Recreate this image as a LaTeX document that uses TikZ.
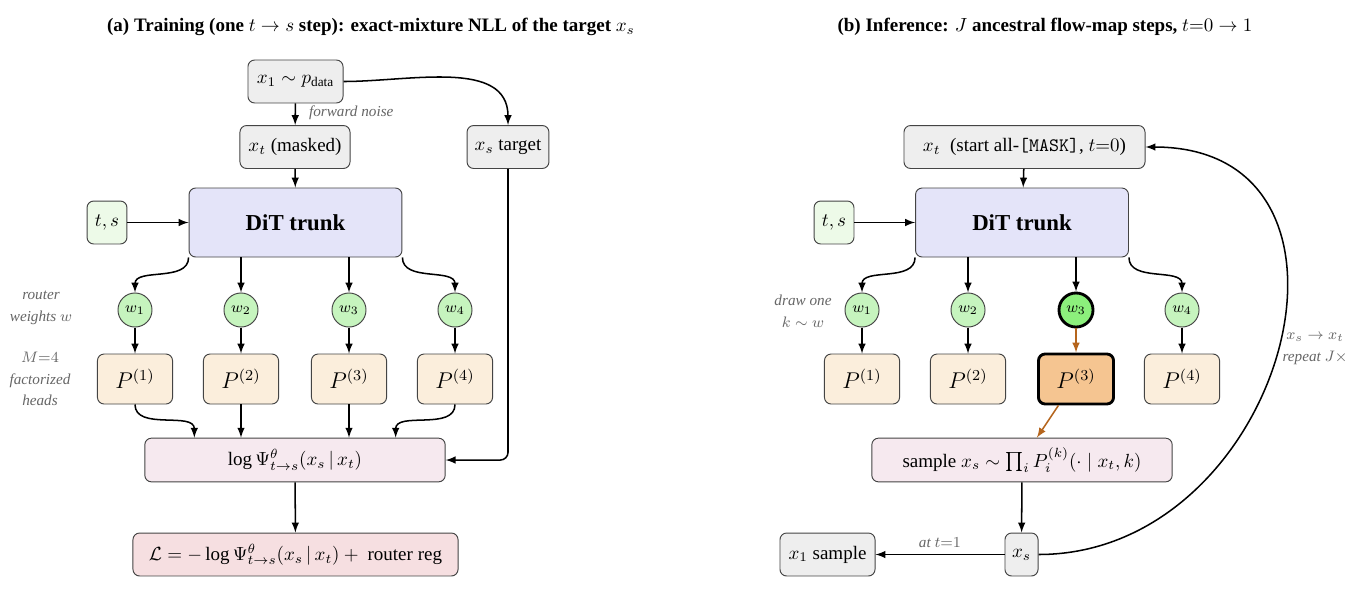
\documentclass[tikz,border=0pt]{standalone}
\usepackage{fontspec}
\setmainfont{Liberation Serif}
\usepackage{amsmath}
\usetikzlibrary{positioning}

\definecolor{boxgray}{HTML}{EEEEEE}
\definecolor{tsgreen}{HTML}{EDFAE8}
\definecolor{trunkblue}{HTML}{E4E4F9}
\definecolor{wgreen}{HTML}{C6F4BE}
\definecolor{wpick}{HTML}{8CF07C}
\definecolor{headtan}{HTML}{FBEEDC}
\definecolor{headpick}{HTML}{F5C591}
\definecolor{mixpink}{HTML}{F6E9EF}
\definecolor{losspink}{HTML}{F6DFE1}
\definecolor{pickline}{HTML}{B5651D}
\definecolor{notegray}{HTML}{666666}
\definecolor{edgegray}{HTML}{444444}

\begin{document}
\begin{tikzpicture}[x=0.526pt, y=-0.526pt, >=latex, thick,
    box/.style={draw=edgegray, line width=0.5pt, rounded corners=3.5pt, fill=boxgray,
                minimum height=22.6pt, inner xsep=4pt, inner ysep=2pt},
    trunk/.style={box, fill=trunkblue, minimum width=112pt, minimum height=36.3pt, font=\large\bfseries},
    cond/.style={box, fill=tsgreen, minimum width=21pt, inner xsep=2pt},
    wnode/.style={circle, draw=edgegray, line width=0.5pt, fill=wgreen, minimum size=17.9pt,
                  inner sep=0pt, font=\footnotesize},
    wsel/.style={wnode, fill=wpick, draw=black, line width=1.5pt},
    head/.style={box, fill=headtan, minimum width=39.5pt, minimum height=26.3pt, font=\large},
    headsel/.style={head, fill=headpick, draw=black, line width=1.5pt},
    mix/.style={box, fill=mixpink, minimum width=158pt, minimum height=23pt},
    note/.style={font={\fontsize{8}{11.3}\selectfont\itshape}, text=notegray, align=center},
    title/.style={font={\fontsize{10}{12}\selectfont\bfseries}}]

  \fill[white] (0,0) rectangle (1356,594);
  \useasboundingbox (0,0) rectangle (1356,594);

  % (a) training
  \node[title] (ttlA) at (371,27) {(a) Training (one $t\to s$ step): exact-mixture NLL of the target $x_s$};

  \node[box, minimum width=50pt] (x1A) at (295.5,81.5) {$x_1\sim p_{\text{data}}$};
  \node[box, minimum width=57.9pt] (xtA) at (295,147) {$x_t$ (masked)};
  \node[box, minimum width=43pt] (xsA) at (508,147) {$x_s$ target};
  \node[cond] (tsA) at (107,222.5) {$t,s$};
  \node[trunk] (ditA) at (295.5,222.5) {DiT trunk};
  \foreach \i/\x in {1/135,2/241,3/349,4/455} {
    \node[wnode] (wA\i) at (\x,310) {$w_\i$};
    \node[head] (pA\i) at (\x,379) {$P^{(\i)}$};
  }
  \node[mix] (mixA) at (295,460) {$\log\Psi^{\theta}_{t\to s}(x_s\,|\,x_t)$};
  \node[box, fill=losspink, minimum width=171pt] (lossA) at (295.5,554.5)
    {$\mathcal{L}=-\log\Psi^{\theta}_{t\to s}(x_s\,|\,x_t)+{}$ router reg};

  \node[note, anchor=west] (noiseA) at (302,113) {forward noise};
  \node[note] (routerA) at (41,308) {router\\weights $w$};
  \node[note] (headsA) at (40,379) {$M{=}4$\\factorized\\heads};

  \draw[->] (x1A) -- (xtA);
  \draw[->] (x1A.east) to[out=0,in=90] (xsA.north);
  \draw[->] (xtA) -- (ditA);
  \draw[->] (tsA) -- (ditA);
  \draw[->] (ditA.south west) to[out=-90,in=90] (wA1.north);
  \draw[->] (wA2 |- ditA.south) -- (wA2);
  \draw[->] (wA3 |- ditA.south) -- (wA3);
  \draw[->] (ditA.south east) to[out=-90,in=90] (wA4.north);
  \foreach \i in {1,...,4}
    \draw[->] (wA\i) -- (pA\i);
  \draw[->] (pA1.south) to[out=-90,in=90] ([xshift=26.3pt]mixA.north west);
  \draw[->] (pA2) -- (pA2 |- mixA.north);
  \draw[->] (pA3) -- (pA3 |- mixA.north);
  \draw[->] (pA4.south) to[out=-90,in=90] ([xshift=-26.3pt]mixA.north east);
  \draw[->, rounded corners=4pt] (xsA) |- (mixA);
  \draw[->] (mixA) -- (lossA);

  % (b) inference
  \node[title] (ttlB) at (1045,27) {(b) Inference: $J$ ancestral flow-map steps, $t{=}0\to 1$};

  \node[box, minimum width=126.8pt] (xtB) at (1024.5,147) {$x_t$~ (start all-\texttt{[MASK]}, $t{=}0$)};
  \node[cond] (tsB) at (834,222.5) {$t,s$};
  \node[trunk] (ditB) at (1022,222.5) {DiT trunk};
  \foreach \i/\x in {1/862,2/968,4/1182} {
    \node[wnode] (wB\i) at (\x,310) {$w_\i$};
    \node[head] (pB\i) at (\x,379) {$P^{(\i)}$};
  }
  \node[wsel] (wB3) at (1076,310) {$w_3$};
  \node[headsel] (pB3) at (1076,379) {$P^{(3)}$};
  \node[mix] (mixB) at (1022,460) {sample $x_s\sim\prod_i P_i^{(k)}(\cdot\mid x_t,k)$};
  \node[box, minimum width=17.4pt, inner xsep=2pt] (xsB) at (1021.5,554.5) {$x_s$};
  \node[box, minimum width=50pt] (x1B) at (827.5,554.5) {$x_1$ sample};

  \node[note] (drawB) at (803,311) {draw one\\$k\sim w$};
  \node[note] (loopB) at (1315,349) {$x_s\to x_t$\\repeat $J\times$};

  \draw[->] (xtB) -- (ditB);
  \draw[->] (tsB) -- (ditB);
  \draw[->] (ditB.south west) to[out=-90,in=90] (wB1.north);
  \draw[->] (wB2 |- ditB.south) -- (wB2);
  \draw[->] (wB3 |- ditB.south) -- (wB3);
  \draw[->] (ditB.south east) to[out=-90,in=90] (wB4.north);
  \foreach \i in {1,2,4}
    \draw[->] (wB\i) -- (pB\i);
  \draw[->, pickline] (wB3) -- (pB3);
  \draw[->, pickline] (pB3) -- (mixB);
  \draw[->] (mixB) -- (xsB);
  \draw[->] (xsB) -- node[note, above] (atB) {at $t{=}1$} (x1B);
  \draw[->] (xsB.east) to[out=0,in=0,looseness=1.5] (xtB.east);
\end{tikzpicture}
\end{document}
